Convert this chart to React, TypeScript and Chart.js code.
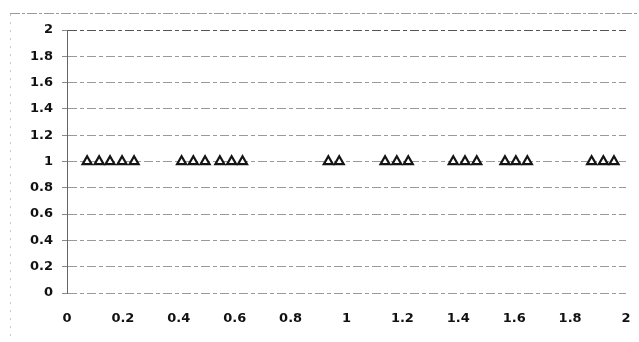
import React, { useEffect, useRef } from "react";
import { Chart, registerables } from "chart.js";

Chart.register(...registerables);

const xValues = [
  0.072, 0.115, 0.154, 0.197, 0.24,
  0.41, 0.452, 0.494, 0.547, 0.589, 0.628,
  0.935, 0.974,
  1.138, 1.18, 1.221,
  1.382, 1.424, 1.466,
  1.567, 1.606, 1.647,
  1.877, 1.919, 1.957,
];
const yValues = xValues.map(() => 1);
const xTickLabels = ["0", "0.2", "0.4", "0.6", "0.8", "1", "1.2", "1.4", "1.6", "1.8", "2"];
const yTickLabels = ["0", "0.2", "0.4", "0.6", "0.8", "1", "1.2", "1.4", "1.6", "1.8", "2"];

const framePlugin = {
  id: "frame",
  beforeDraw(chart: any) {
    const ctx = chart.ctx;
    ctx.save();
    ctx.strokeStyle = "#9a9a9a";
    ctx.lineWidth = 1;
    ctx.setLineDash([10, 2, 3, 2]);
    ctx.beginPath();
    ctx.moveTo(10, 13.5);
    ctx.lineTo(639, 13.5);
    ctx.stroke();
    ctx.strokeStyle = "#c8c8c8";
    ctx.setLineDash([2, 6]);
    ctx.beginPath();
    ctx.moveTo(10.5, 14);
    ctx.lineTo(10.5, 342);
    ctx.stroke();
    ctx.restore();
  },
};

export default function App() {
  const ref = useRef<HTMLCanvasElement | null>(null);
  useEffect(() => {
    document.body.style.margin = "0";
    const canvas = ref.current!;
    const chart = new Chart(canvas, {
      type: "scatter",
      data: {
        datasets: [
          {
            data: xValues.map((x, i) => ({ x, y: yValues[i] })),
            pointStyle: "triangle",
            pointRadius: 5.2,
            pointBorderWidth: 2.2,
            borderColor: "#141414",
            backgroundColor: "#ffffff",
            pointBackgroundColor: "#ffffff",
            pointBorderColor: "#141414",
          },
        ],
      },
      options: {
        animation: false,
        responsive: false,
        events: [],
        layout: { padding: { left: 0, right: 13, top: 30, bottom: 8 } },
        plugins: { legend: { display: false }, tooltip: { enabled: false } },
        scales: {
          x: {
            type: "linear",
            min: 0,
            max: 2,
            afterBuildTicks: (scale: any) => {
              scale.ticks = xTickLabels.map((_, i) => ({ value: i * 0.2 }));
            },
            afterFit: (scale: any) => {
              scale.height = 41;
            },
            grid: { display: false, drawTicks: true, tickLength: 15, tickColor: "rgba(0,0,0,0)" },
            border: { display: false },
            ticks: {
              padding: 3,
              color: "#111",
              font: { family: "DejaVu Sans", size: 13, weight: "bold" },
              callback: (_v: any, i: number) => xTickLabels[i],
              maxRotation: 0,
              autoSkip: false,
            },
          },
          y: {
            type: "linear",
            min: 0,
            max: 2,
            afterBuildTicks: (scale: any) => {
              scale.ticks = yTickLabels.map((_, i) => ({ value: i * 0.2 }));
            },
            afterFit: (scale: any) => {
              scale.width = 67;
            },
            grid: {
              color: (c: any) => (c.index === 10 ? "#555" : "#9a9a9a"),
              lineWidth: 1,
              tickLength: 5,
              tickColor: "#8a8a8a",
            },
            border: { display: true, color: "#666", width: 1, dash: [9, 3, 4, 3] },
            ticks: {
              padding: 9,
              color: "#111",
              font: { family: "DejaVu Sans", size: 13, weight: "bold" },
              callback: (_v: any, i: number) => yTickLabels[i],
              autoSkip: false,
            },
          },
        },
      },
      plugins: [framePlugin],
    });
    return () => chart.destroy();
  }, []);
  return (
    <div style={{ width: 639, height: 342 }}>
      <canvas ref={ref} width={639} height={342} style={{ display: "block" }} />
    </div>
  );
}
